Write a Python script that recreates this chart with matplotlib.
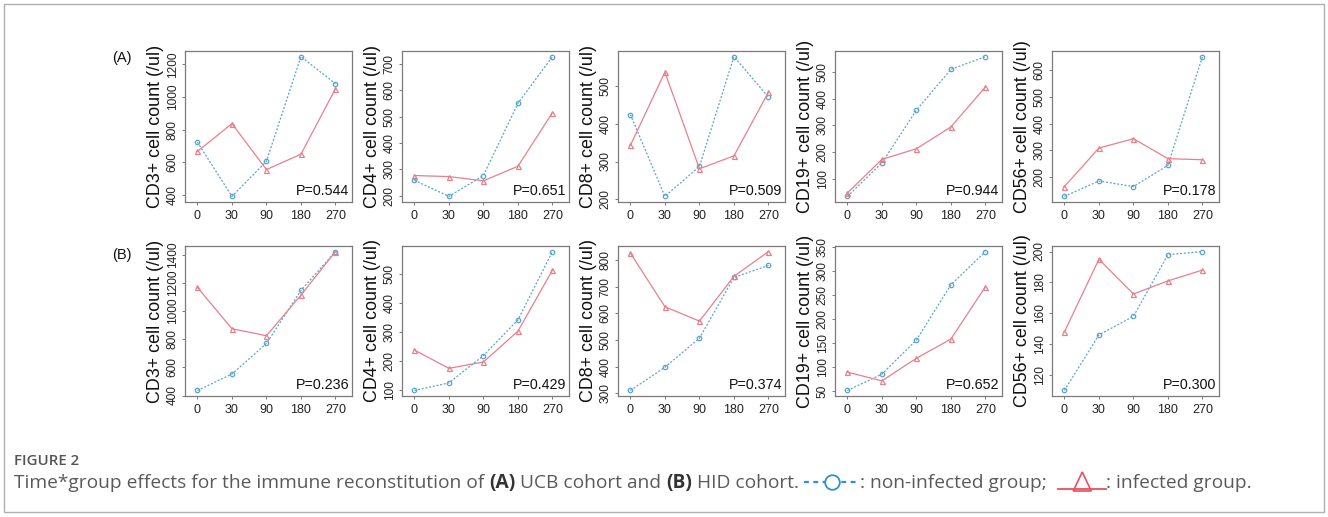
import matplotlib
matplotlib.use("Agg")
import matplotlib.pyplot as plt
from matplotlib.lines import Line2D
from matplotlib.patches import Rectangle, Polygon
import numpy as np

W, H = 1328, 517

# ---------------- data ----------------
days = ["0", "30", "90", "180", "270"]
markers = ["CD3+", "CD4+", "CD8+", "CD19+", "CD56+"]

# (A) UCB cohort
ucb_non = {
    "CD3+": [724, 392, 607, 1247, 1081],
    "CD4+": [259, 198, 277, 550, 727],
    "CD8+": [424, 208, 287, 577, 470],
    "CD19+": [33, 159, 357, 510, 558],
    "CD56+": [126, 184, 163, 243, 652],
}
ucb_inf = {
    "CD3+": [667, 837, 556, 650, 1050],
    "CD4+": [277, 273, 257, 312, 515],
    "CD8+": [343, 536, 281, 315, 483],
    "CD19+": [46, 172, 212, 294, 444],
    "CD56+": [163, 308, 343, 268, 264],
}
ucb_p = ["0.544", "0.651", "0.509", "0.944", "0.178"]
ucb_ticks = [
    [400, 600, 800, 1000, 1200],
    [200, 300, 400, 500, 600, 700],
    [200, 300, 400, 500],
    [100, 200, 300, 400, 500],
    [200, 300, 400, 500, 600],
]

# (B) HID cohort
hid_non = {
    "CD3+": [436, 552, 769, 1145, 1421],
    "CD4+": [99, 125, 219, 342, 577],
    "CD8+": [311, 398, 507, 735, 780],
    "CD19+": [52, 86, 157, 272, 341],
    "CD56+": [110, 146, 158, 198, 200],
}
hid_inf = {
    "CD3+": [1167, 874, 824, 1112, 1421],
    "CD4+": [238, 175, 197, 303, 513],
    "CD8+": [826, 625, 571, 739, 832],
    "CD19+": [90, 72, 119, 159, 268],
    "CD56+": [148, 195, 172.5, 181, 188],
}
hid_p = ["0.236", "0.429", "0.374", "0.652", "0.300"]
hid_ticks = [
    [400, 600, 800, 1000, 1200, 1400],
    [100, 200, 300, 400, 500],
    [300, 400, 500, 600, 700, 800],
    [50, 100, 150, 200, 250, 300, 350],
    [120, 140, 160, 180, 200],
]

# ---------------- style ----------------
BLUE = "#5aa5cc"
RED = "#e8808c"
BOX = "#7a7a7a"
FONT = "Liberation Sans"

fig = plt.figure(figsize=(W / 100, H / 100), dpi=100)


def px_rect(left, top, right, bottom):
    return [left / W, 1 - bottom / H, (right - left) / W, (bottom - top) / H]


col_lefts = [185, 402, 618, 835, 1052]
col_w = 167
rows = [(51, 202), (246, 396)]

cohorts = [(ucb_non, ucb_inf, ucb_p, ucb_ticks), (hid_non, hid_inf, hid_p, hid_ticks)]

x = np.arange(1, len(days) + 1)
for r, (top, bottom) in enumerate(rows):
    non, inf, pvals, ticks = cohorts[r]
    for c, m in enumerate(markers):
        left = col_lefts[c]
        ax = fig.add_axes(px_rect(left, top, left + col_w, bottom))
        yn = np.array(non[m], dtype=float)
        yi = np.array(inf[m], dtype=float)
        ax.plot(x, yn, linestyle=(0, (1.6, 1.4)), color=BLUE, lw=0.9,
                marker="o", ms=3.2, mfc="none", mec=BLUE, mew=0.9)
        ax.plot(x, yi, linestyle="-", color=RED, lw=0.9,
                marker="^", ms=3.6, mfc="none", mec=RED, mew=0.9)
        lo = min(yn.min(), yi.min())
        hi = max(yn.max(), yi.max())
        rng = hi - lo
        ax.set_ylim(lo - 0.04 * rng, hi + 0.04 * rng)
        ax.set_xlim(0.64, 5.48)
        ax.set_xticks(x)
        ax.set_xticklabels(days, fontsize=9, family=FONT, color="#222222")
        ax.set_yticks(ticks[c])
        ax.set_yticklabels([str(t) for t in ticks[c]], fontsize=8.6, family=FONT,
                           color="#222222", rotation=90, va="center", ha="right")
        ax.tick_params(axis="both", length=2.5, width=0.7, color=BOX, pad=2)
        ax.tick_params(axis="x", pad=3)
        for s in ax.spines.values():
            s.set_color(BOX)
            s.set_linewidth(0.9)
        ax.set_ylabel(m + " cell count (/ul)", fontsize=12.9, family=FONT,
                      color="#111111", labelpad=2)
        ax.text(0.985, 0.025, "P=" + pvals[c], transform=ax.transAxes,
                ha="right", va="bottom", fontsize=10.3, family=FONT, color="#111111")

fig.text(122 / W, 1 - 58 / H, "(A)", ha="center", va="center", fontsize=10.5,
         family=FONT, color="#111111")
fig.text(122 / W, 1 - 255 / H, "(B)", ha="center", va="center", fontsize=10.5,
         family=FONT, color="#111111")

# outer frame
fig.patches.append(Rectangle((4 / W, 1 - 512 / H), 1320 / W, 508 / H,
                             transform=fig.transFigure, fill=False,
                             edgecolor="#b0b0b0", lw=1.0))

# ---------------- caption ----------------
CAP = "Open Sans"
CAPC = "#5a5a5a"
fig.text(14 / W, 1 - 465 / H, "FIGURE 2", ha="left", va="baseline", fontsize=10.8,
         family=CAP, color="#555555", fontweight="semibold")

renderer = fig.canvas.get_renderer()
cap_size = 13.75
base_y = 1 - 488 / H


def put(xpix, s, bold=False, color=CAPC):
    t = fig.text(xpix / W, base_y, s, ha="left", va="baseline", fontsize=cap_size,
                 family=CAP, color=color, fontweight="bold" if bold else "normal")
    bb = t.get_window_extent(renderer)
    return xpix + bb.width


def space_w():
    t1 = fig.text(0, 0, "a a", fontsize=cap_size, family=CAP)
    t2 = fig.text(0, 0, "aa", fontsize=cap_size, family=CAP)
    w = t1.get_window_extent(renderer).width - t2.get_window_extent(renderer).width
    t1.remove()
    t2.remove()
    return w


sp = space_w()
xp = 14
xp = put(xp, "Time*group effects for the immune reconstitution of") + sp
xp = put(xp, "(A)", bold=True, color="#333333") + sp
xp = put(xp, "UCB cohort and") + sp
xp = put(xp, "(B)", bold=True, color="#333333") + sp
xp = put(xp, "HID cohort.") + sp

# blue symbol: dashed line with circle
mid_y = 482
sym_w = 56
SB = "#2f8fd8"
fig.lines.append(Line2D([xp / W, (xp + sym_w) / W], [1 - mid_y / H] * 2,
                        transform=fig.transFigure, color=SB, lw=1.6,
                        linestyle=(0, (2.2, 2.0))))
cx = xp + sym_w / 2
fig.lines.append(Line2D([cx / W], [1 - mid_y / H], transform=fig.transFigure,
                        marker="o", ms=10.5, mfc="white", mec=SB, mew=1.3,
                        linestyle="none"))
xp = xp + sym_w
xp = put(xp, ": non-infected group;") + sp + 6

# red symbol: solid line with triangle
SR = "#e8505e"
sym_w2 = 48
ly = 489
fig.lines.append(Line2D([xp / W, (xp + sym_w2) / W], [1 - ly / H] * 2,
                        transform=fig.transFigure, color=SR, lw=1.3))
tx = xp + sym_w2 / 2
tri = Polygon([((tx - 9) / W, 1 - 491 / H), ((tx + 9) / W, 1 - 491 / H),
               (tx / W, 1 - 472 / H)], closed=True, fill=False, edgecolor=SR,
              lw=1.2, transform=fig.transFigure)
fig.patches.append(tri)
xp = xp + sym_w2
xp = put(xp, ": infected group.")

fig.savefig("out.png", dpi=100)
